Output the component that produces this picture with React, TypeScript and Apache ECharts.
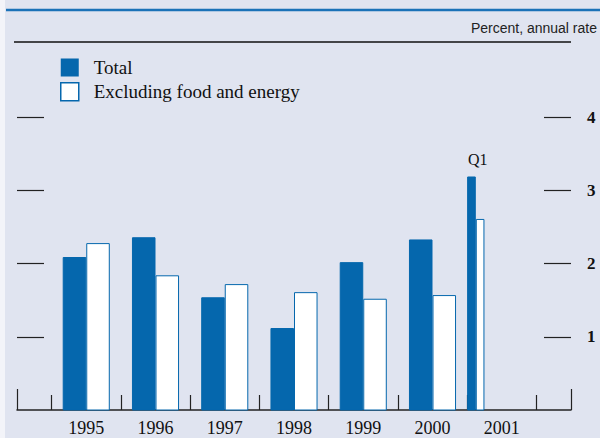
import React, { useEffect, useRef } from "react";
import * as echarts from "echarts";

const years = [1995, 1996, 1997, 1998, 1999, 2000];
const totalValues = [2.09, 2.36, 1.54, 1.12, 2.02, 2.33];
const excludingValues = [2.28, 1.84, 1.72, 1.61, 1.52, 1.57];
const q1Year = 2001;
const q1Total = 3.19;
const q1Excluding = 2.61;
const yTicks = [1, 2, 3, 4];
const yearLabels = ["1995", "1996", "1997", "1998", "1999", "2000", "2001"];

const BLUE = "#0567ad";
const BG = "#e0e4f0";
const FONT = "'Liberation Serif', 'DejaVu Serif', serif";
const SANS = "'Liberation Sans', 'DejaVu Sans', sans-serif";

export default function App() {
  const ref = useRef<HTMLDivElement>(null);

  useEffect(() => {
    if (!ref.current) return;
    const chart = echarts.init(ref.current, null, { renderer: "svg" });

    // data rows: [xStart, xEnd, value, label]
    const totalData: any[] = years.map((y, i) => [y + 0.16, y + 0.5, totalValues[i], ""]);
    totalData.push([q1Year, q1Year + 0.125, q1Total, "Q1"]);
    const exclData: any[] = years.map((y, i) => [y + 0.5, y + 0.84, excludingValues[i], ""]);
    exclData.push([q1Year + 0.125, q1Year + 0.25, q1Excluding, ""]);

    const makeRender = (fill: string, stroke: string, withLabel: boolean) => (params: any, api: any) => {
      const x0 = api.value(0);
      const x1 = api.value(1);
      const v = api.value(2);
      const p0 = api.coord([x0, v]);
      const p1 = api.coord([x1, 0]);
      const children: any[] = [
        {
          type: "rect",
          shape: { x: p0[0] + 0.5, y: p0[1] + 0.5, width: p1[0] - p0[0] - 1, height: p1[1] - p0[1] - 0.5 },
          style: { fill, stroke, lineWidth: 1 },
        },
      ];
      const lbl = totalData[params.dataIndex] ? totalData[params.dataIndex][3] : "";
      if (withLabel && lbl) {
        children.push({
          type: "text",
          x: p1[0] + 2,
          y: p0[1] - 17,
          style: {
            text: lbl,
            font: `16px ${FONT}`,
            fill: "#111",
            align: "center",
            verticalAlign: "middle",
          },
        });
      }
      return { type: "group", children };
    };

    chart.setOption({
      animation: false,
      backgroundColor: BG,
      textStyle: { fontFamily: FONT },
      grid: { left: 17, right: 29, top: 44, bottom: 28 },
      legend: {
        orient: "vertical",
        left: 55,
        top: 53,
        itemWidth: 18,
        itemHeight: 18,
        itemGap: 5,
        icon: "rect",
        textStyle: { fontFamily: FONT, fontSize: 19, color: "#111", padding: [0, 0, 0, 10] },
        data: [
          { name: "Total", itemStyle: { color: BLUE } },
          { name: "Excluding food and energy", itemStyle: { color: "#ffffff", borderColor: BLUE, borderWidth: 1.5 } },
        ],
      },
      xAxis: [
        {
          type: "value",
          min: 1994.5,
          max: 2002.5,
          axisLine: { show: true, lineStyle: { color: "#222", width: 1.5 } },
          axisTick: {
            show: true,
            inside: true,
            length: 15,
            customValues: [1995, 1996, 1997, 1998, 1999, 2000, 2001, 2002],
            lineStyle: { color: "#222", width: 1.2 },
          },
          axisLabel: {
            show: true,
            customValues: yearLabels.map((s) => Number(s) + 0.5),
            formatter: (v: number) => String(Math.floor(v)),
            fontFamily: FONT,
            fontSize: 18,
            color: "#111",
            margin: 9,
          },
          splitLine: { show: false },
        },
        {
          type: "value",
          position: "bottom",
          min: 1994.5,
          max: 2002.5,
          axisLine: { show: false },
          axisTick: {
            show: true,
            inside: true,
            length: 21,
            customValues: [1994.5, 2002.5],
            lineStyle: { color: "#222", width: 1.2 },
          },
          axisLabel: { show: false },
          splitLine: { show: false },
        },
      ],
      yAxis: [
        {
          type: "value",
          min: 0,
          max: 5,
          position: "left",
          axisLine: { show: false },
          axisTick: {
            show: true,
            inside: true,
            length: 27,
            customValues: yTicks,
            lineStyle: { color: "#222", width: 1.2 },
          },
          axisLabel: { show: false },
          splitLine: { show: false },
        },
        {
          type: "value",
          min: 0,
          max: 5,
          position: "right",
          axisLine: { show: false },
          axisTick: {
            show: true,
            inside: true,
            length: 27,
            customValues: yTicks,
            lineStyle: { color: "#222", width: 1.2 },
          },
          axisLabel: {
            show: true,
            inside: false,
            customValues: yTicks,
            fontFamily: FONT,
            fontSize: 17,
            fontWeight: "bold",
            color: "#111",
            margin: 16,
          },
          splitLine: { show: false },
        },
      ],
      graphic: [
        { type: "rect", left: 0, top: 0, shape: { width: 5, height: 438 }, style: { fill: "#f3f4f9" } },
        { type: "line", shape: { x1: 6, y1: 10, x2: 600, y2: 10 }, style: { stroke: "#1b72b8", lineWidth: 2.5 } },
        { type: "line", shape: { x1: 14, y1: 42, x2: 571, y2: 42 }, style: { stroke: "#111", lineWidth: 1.3 } },
        {
          type: "text",
          x: 597,
          y: 28,
          style: {
            text: "Percent, annual rate",
            font: `14px ${SANS}`,
            fill: "#222",
            align: "right",
            verticalAlign: "middle",
          },
        },
      ],
      series: [
        {
          name: "Total",
          type: "custom",
          xAxisIndex: 0,
          yAxisIndex: 0,
          renderItem: makeRender(BLUE, BLUE, true),
          itemStyle: { color: BLUE },
          encode: { x: [0, 1], y: 2 },
          data: totalData,
          z: 3,
        },
        {
          name: "Excluding food and energy",
          type: "custom",
          xAxisIndex: 0,
          yAxisIndex: 0,
          renderItem: makeRender("#ffffff", BLUE, false),
          itemStyle: { color: "#ffffff", borderColor: BLUE },
          encode: { x: [0, 1], y: 2 },
          data: exclData,
          z: 3,
        },
      ],
    });

    return () => chart.dispose();
  }, []);

  return <div ref={ref} style={{ width: 600, height: 438, position: "absolute", left: 0, top: 0 }} />;
}
